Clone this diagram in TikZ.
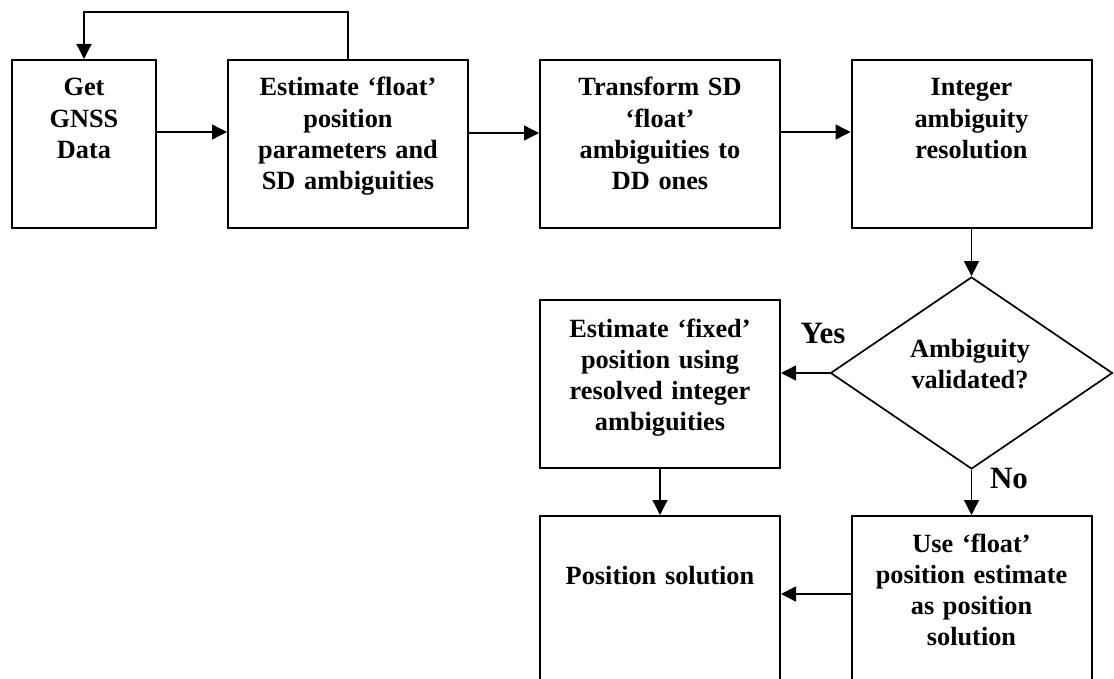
\documentclass[tikz,border=0pt]{standalone}
\usepackage{fontspec}
\setmainfont{Liberation Serif}
\usetikzlibrary{arrows.meta,shapes.geometric}
\tikzset{
  box/.style={draw, line width=2pt, inner sep=0pt, minimum width=240pt, minimum height=168pt},
  txt/.style={inner sep=0pt, text width=236pt, align=center, anchor=base,
              font=\fontsize{26.3pt}{31.3pt}\selectfont\bfseries},
  lbl/.style={inner sep=0pt, anchor=base, font=\fontsize{31pt}{36pt}\selectfont\bfseries},
  arr/.style={line width=1.3pt, -{Triangle[length=15pt,width=15pt]}},
  dia/.style={draw, diamond, line width=1.7pt, inner sep=0pt, minimum width=282pt, minimum height=192pt}
}
\begin{document}
\begin{tikzpicture}[x=1pt,y=-1pt]
\useasboundingbox (0,0) rectangle (1114,679);
\clip (0,0) rectangle (1114,679);
% boxes
\node[box, minimum width=144pt] (get) at (84,144) {};
\node[box] (est) at (348,144) {};
\node[box] (trans) at (660,144) {};
\node[box] (integ) at (971.5,144) {};
\node[dia] (diam) at (971.5,373) {};
\node[box] (fixed) at (660,384) {};
\node[box, minimum height=184pt] (pos) at (660,608) {};
\node[box, minimum height=184pt] (flt) at (971.5,608) {};
% texts
\node[txt, text width=140pt] (getT) at ([yshift=-37pt]get.north) {Get\\GNSS\\Data};
\node[txt] (estT) at ([yshift=-37pt]est.north) {Estimate ‘float’\\position\\parameters and\\SD ambiguities};
\node[txt] (transT) at ([yshift=-37pt]trans.north) {Transform SD\\‘float’\\ambiguities to\\DD ones};
\node[txt] (integT) at ([yshift=-37pt]integ.north) {Integer\\ambiguity\\resolution};
\node[txt] (diamT) at (970,357) {Ambiguity\\validated?};
\node[txt] (fixedT) at ([yshift=-38pt]fixed.north) {Estimate ‘fixed’\\position using\\resolved integer\\ambiguities};
\node[txt] (posT) at ([yshift=-69pt]pos.north) {Position solution};
\node[txt] (fltT) at ([yshift=-37pt]flt.north) {Use ‘float’\\position estimate\\as position\\solution};
\node[lbl] (yes) at (823,343) {Yes};
\node[lbl] (no) at (1009,488) {No};
% connectors
\coordinate (fb) at (348,12);
\draw[arr] (est.north) -- (fb) -| (get.north);
\draw[arr] ([yshift=12pt]get.east) -- ([yshift=12pt]est.west);
\draw[arr] ([yshift=11pt]est.east) -- ([yshift=11pt]trans.west);
\draw[arr] ([yshift=12pt]trans.east) -- ([yshift=12pt]integ.west);
\draw[arr] (integ.south) -- (diam.north);
\draw[arr] (diam.west) -- (diam.west -| fixed.east);
\draw[arr] (diam.south) -- (flt.north);
\draw[arr] (fixed.south) -- (pos.north);
\draw[arr] ([yshift=14pt]flt.west) -- ([yshift=14pt]pos.east);
\end{tikzpicture}
\end{document}
